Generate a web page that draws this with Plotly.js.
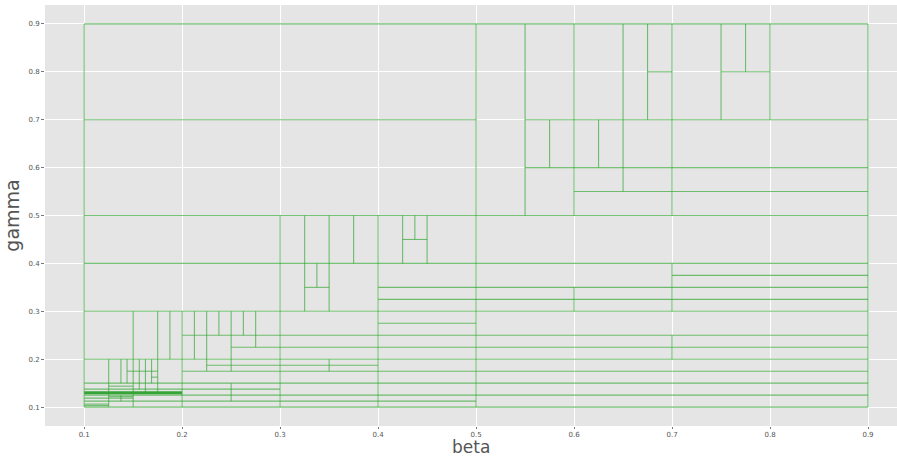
<!DOCTYPE html>
<html>
<head>
<meta charset="utf-8">
<script src="https://cdn.plot.ly/plotly-3.0.1.min.js"></script>
<style>html,body{margin:0;padding:0;overflow:hidden;background:#fff;}</style>
</head>
<body>
<div id="chart" style="width:897px;height:458px;"></div>
<script>
// Horizontal segments: y level, x start, x end
const hY  = [0.9, 0.1, 0.7, 0.7, 0.5, 0.8, 0.8, 0.6, 0.55, 0.45, 0.4, 0.375, 0.35, 0.35, 0.325, 0.3, 0.275, 0.25, 0.225, 0.2, 0.1875, 0.175, 0.175, 0.1625, 0.15, 0.14375, 0.1375, 0.125, 0.11875, 0.1125, 0.10625, 0.1219, 0.1031];
const hX0 = [0.1, 0.1, 0.1, 0.55, 0.1, 0.675, 0.75, 0.55, 0.6, 0.425, 0.1, 0.7, 0.325, 0.4, 0.4, 0.1, 0.4, 0.2, 0.25, 0.1, 0.225, 0.2, 0.14375, 0.16875, 0.1, 0.125, 0.1, 0.1, 0.1, 0.1, 0.1, 0.125, 0.1];
const hX1 = [0.9, 0.9, 0.5, 0.9, 0.9, 0.7, 0.8, 0.9, 0.9, 0.45, 0.9, 0.9, 0.35, 0.9, 0.9, 0.9, 0.5, 0.9, 0.9, 0.9, 0.4, 0.9, 0.175, 0.175, 0.9, 0.15, 0.3, 0.9, 0.15, 0.5, 0.125, 0.15, 0.125];

// Vertical segments: x position, y start, y end
const vX  = [0.1, 0.9, 0.5, 0.55, 0.6, 0.65, 0.7, 0.75, 0.8, 0.675, 0.775, 0.575, 0.625, 0.3, 0.325, 0.35, 0.375, 0.4, 0.425, 0.4375, 0.45, 0.3375, 0.35, 0.6, 0.7, 0.7, 0.15, 0.175, 0.1875, 0.2, 0.2125, 0.225, 0.2375, 0.25, 0.25, 0.2625, 0.275, 0.125, 0.1375, 0.14375, 0.15625, 0.1625, 0.16875, 0.1375];
const vY0 = [0.1, 0.1, 0.1, 0.5, 0.5, 0.55, 0.5, 0.7, 0.7, 0.7, 0.8, 0.6, 0.6, 0.1, 0.3, 0.3, 0.4, 0.1, 0.4, 0.45, 0.4, 0.35, 0.175, 0.3, 0.3, 0.2, 0.1, 0.13, 0.2, 0.1, 0.2, 0.175, 0.25, 0.175, 0.1125, 0.25, 0.225, 0.1, 0.15, 0.15, 0.1375, 0.13, 0.15, 0.1125];
const vY1 = [0.9, 0.9, 0.9, 0.9, 0.9, 0.9, 0.9, 0.9, 0.9, 0.9, 0.9, 0.7, 0.7, 0.5, 0.5, 0.5, 0.5, 0.5, 0.5, 0.5, 0.5, 0.4, 0.2, 0.35, 0.4, 0.25, 0.3, 0.3, 0.3, 0.3, 0.3, 0.3, 0.3, 0.3, 0.15, 0.3, 0.3, 0.2, 0.2, 0.2, 0.2, 0.2, 0.2, 0.125];

// Thick (overlapping) segment
const thickY = [0.13];
const thickX0 = [0.1];
const thickX1 = [0.2];

const tickVals = [0.1, 0.2, 0.3, 0.4, 0.5, 0.6, 0.7, 0.8, 0.9];
const tickText = ['0.1', '0.2', '0.3', '0.4', '0.5', '0.6', '0.7', '0.8', '0.9'];
const xTitle = 'beta';
const yTitle = 'gamma';

const xs = [], ys = [];
hY.forEach((y, i) => { xs.push(hX0[i], hX1[i], null); ys.push(y, y, null); });
vX.forEach((x, i) => { xs.push(x, x, null); ys.push(vY0[i], vY1[i], null); });
const tx = [], ty = [];
thickY.forEach((y, i) => { tx.push(thickX0[i], thickX1[i], null); ty.push(y, y, null); });

const traces = [
  {x: xs, y: ys, type: 'scatter', mode: 'lines', line: {color: 'rgba(44,165,44,0.65)', width: 1.1}, hoverinfo: 'skip', showlegend: false},
  {x: tx, y: ty, type: 'scatter', mode: 'lines', line: {color: 'rgba(44,160,44,0.95)', width: 3}, hoverinfo: 'skip', showlegend: false}
];

const axisCommon = {
  showgrid: true, gridcolor: '#ffffff', gridwidth: 1, zeroline: false,
  showline: false, ticks: 'outside', ticklen: 3, tickcolor: '#555555', tickwidth: 0.8,
  tickfont: {family: 'DejaVu Sans', size: 7, color: '#555555'},
  tickvals: tickVals, ticktext: tickText, automargin: false
};

const plotH = 458 - 5 - 32;
const layout = {
  width: 897, height: 458,
  margin: {l: 45, r: 0, t: 5, b: 32},
  paper_bgcolor: '#ffffff', plot_bgcolor: '#e5e5e5',
  xaxis: Object.assign({}, axisCommon, {range: [0.06, 0.9296], ticklen: 2}),
  yaxis: Object.assign({}, axisCommon, {range: [0.0606, 0.9394],
    title: {text: yTitle, font: {family: 'DejaVu Sans', size: 19, color: '#555555'}, standoff: 3}}),
  annotations: [{
    text: xTitle, xref: 'paper', yref: 'paper', x: 0.5, y: -32 / plotH,
    xanchor: 'center', yanchor: 'bottom', showarrow: false, yshift: 0, borderpad: 0,
    font: {family: 'DejaVu Sans', size: 17, color: '#555555'}
  }],
  showlegend: false
};

Plotly.newPlot('chart', traces, layout, {displayModeBar: false, staticPlot: true});
</script>
</body>
</html>
